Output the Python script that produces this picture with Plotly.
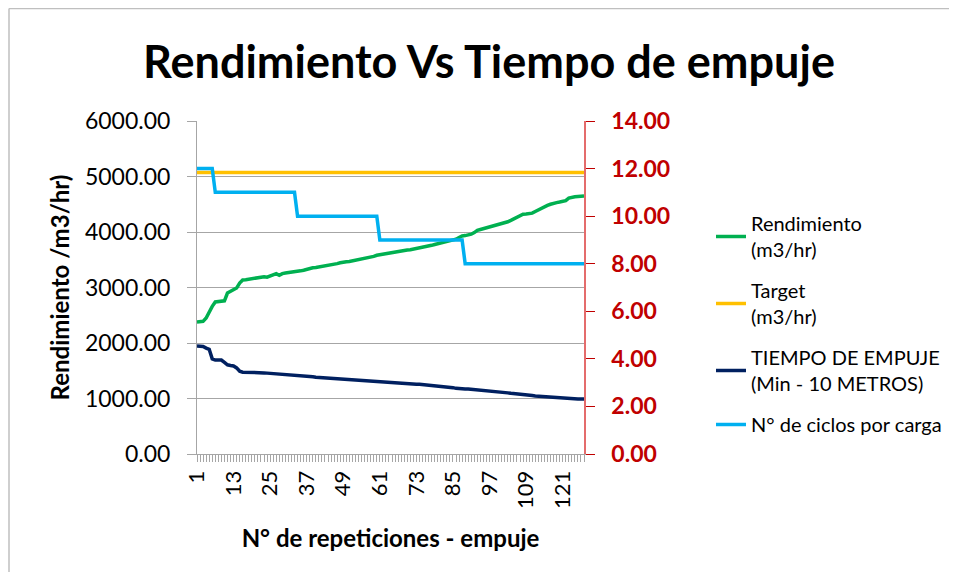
import plotly.graph_objects as go

# Nº de repeticiones (categorías)
repeticiones = list(range(1, 129))

rendimiento = [
    2380, 2380, 2390, 2450, 2560, 2660, 2740, 2750, 2750, 2760,
    2900, 2930, 2960, 2990, 3080, 3135, 3140, 3150, 3160, 3170,
    3175, 3185, 3195, 3185, 3210, 3235, 3250, 3220, 3250, 3260,
    3265, 3270, 3290, 3295, 3300, 3310, 3330, 3345, 3355, 3360,
    3370, 3375, 3380, 3385, 3410, 3420, 3430, 3445, 3460, 3465,
    3470, 3480, 3495, 3510, 3525, 3530, 3540, 3550, 3560, 3580,
    3590, 3600, 3610, 3620, 3640, 3645, 3650, 3660, 3665, 3675,
    3680, 3690, 3700, 3705, 3715, 3730, 3745, 3760, 3775, 3790,
    3800, 3815, 3825, 3840, 3850, 3870, 3900, 3930, 3935, 3945,
    3960, 3990, 4030, 4045, 4060, 4080, 4095, 4100, 4110, 4130,
    4150, 4165, 4185, 4210, 4240, 4270, 4300, 4320, 4325, 4330,
    4340, 4370, 4400, 4420, 4450, 4480, 4500, 4520, 4530, 4540,
    4560, 4565, 4610, 4630, 4635, 4640, 4645, 4648,
]

target = [
    5070, 5070, 5070, 5070, 5070, 5070, 5070, 5070, 5070, 5070,
    5070, 5070, 5070, 5070, 5070, 5070, 5070, 5070, 5070, 5070,
    5070, 5070, 5070, 5070, 5070, 5070, 5070, 5070, 5070, 5070,
    5070, 5070, 5070, 5070, 5070, 5070, 5070, 5070, 5070, 5070,
    5070, 5070, 5070, 5070, 5070, 5070, 5070, 5070, 5070, 5070,
    5070, 5070, 5070, 5070, 5070, 5070, 5070, 5070, 5070, 5070,
    5070, 5070, 5070, 5070, 5070, 5070, 5070, 5070, 5070, 5070,
    5070, 5070, 5070, 5070, 5070, 5070, 5070, 5070, 5070, 5070,
    5070, 5070, 5070, 5070, 5070, 5070, 5070, 5070, 5070, 5070,
    5070, 5070, 5070, 5070, 5070, 5070, 5070, 5070, 5070, 5070,
    5070, 5070, 5070, 5070, 5070, 5070, 5070, 5070, 5070, 5070,
    5070, 5070, 5070, 5070, 5070, 5070, 5070, 5070, 5070, 5070,
    5070, 5070, 5070, 5070, 5070, 5070, 5070, 5070,
]

tiempo_empuje = [
    4.54, 4.54, 4.52, 4.45, 4.40, 4.00, 3.95, 3.95, 3.95, 3.85,
    3.75, 3.72, 3.70, 3.62, 3.48, 3.44, 3.44, 3.43, 3.43, 3.42,
    3.42, 3.41, 3.41, 3.40, 3.39, 3.38, 3.40, 3.36, 3.36, 3.35,
    3.34, 3.33, 3.32, 3.31, 3.30, 3.29, 3.28, 3.26, 3.25, 3.23,
    3.22, 3.21, 3.21, 3.20, 3.20, 3.18, 3.17, 3.16, 3.15, 3.14,
    3.13, 3.13, 3.12, 3.11, 3.10, 3.08, 3.07, 3.06, 3.05, 3.04,
    3.03, 3.02, 3.01, 3.00, 3.00, 2.99, 2.99, 2.98, 2.97, 2.96,
    2.95, 2.94, 2.93, 2.93, 2.92, 2.90, 2.89, 2.88, 2.86, 2.85,
    2.84, 2.83, 2.82, 2.81, 2.79, 2.76, 2.74, 2.73, 2.73, 2.73,
    2.72, 2.70, 2.68, 2.67, 2.67, 2.66, 2.65, 2.64, 2.63, 2.62,
    2.61, 2.59, 2.57, 2.55, 2.54, 2.53, 2.53, 2.52, 2.50, 2.48,
    2.46, 2.44, 2.43, 2.42, 2.40, 2.38, 2.37, 2.36, 2.35, 2.35,
    2.34, 2.34, 2.33, 2.32, 2.31, 2.31, 2.31, 2.31,
]

ciclos_carga = [
    12, 12, 12, 12, 12, 12, 11, 11, 11, 11,
    11, 11, 11, 11, 11, 11, 11, 11, 11, 11,
    11, 11, 11, 11, 11, 11, 11, 11, 11, 11,
    11, 11, 11, 10, 10, 10, 10, 10, 10, 10,
    10, 10, 10, 10, 10, 10, 10, 10, 10, 10,
    10, 10, 10, 10, 10, 10, 10, 10, 10, 10,
    9, 9, 9, 9, 9, 9, 9, 9, 9, 9,
    9, 9, 9, 9, 9, 9, 9, 9, 9, 9,
    9, 9, 9, 9, 9, 9, 9, 9, 8, 8,
    8, 8, 8, 8, 8, 8, 8, 8, 8, 8,
    8, 8, 8, 8, 8, 8, 8, 8, 8, 8,
    8, 8, 8, 8, 8, 8, 8, 8, 8, 8,
    8, 8, 8, 8, 8, 8, 8, 8,
]

x_ticks = [1, 13, 25, 37, 49, 61, 73, 85, 97, 109, 121]

FONT = "Lato, 'Open Sans', sans-serif"
GRIS = "#A6A6A6"

# la página tiene 8px de margen: la figura ocupa 941x564
W, H = 941, 564
L, R, T, B = 189, 576, 113, 446

fig = go.Figure()

series = [
    (rendimiento, "Rendimiento<br>(m3/hr)", "#00B050", "y"),
    (target, "Target<br>(m3/hr)", "#FFC000", "y"),
    (tiempo_empuje, "TIEMPO DE EMPUJE<br>(Min - 10 METROS)", "#002060", "y2"),
    (ciclos_carga, "N° de ciclos por carga", "#00B0F0", "y2"),
]
for i, (vals, nombre, color, eje) in enumerate(series):
    fig.add_trace(
        go.Scatter(
            x=repeticiones,
            y=vals,
            name=nombre,
            mode="lines",
            line=dict(color=color, width=3.5),
            yaxis=eje,
            legendgroup=f"g{i}",
        )
    )

fig.update_layout(
    width=W,
    height=H,
    paper_bgcolor="white",
    plot_bgcolor="white",
    margin=dict(l=L, r=W - R, t=T, b=H - B, autoexpand=False),
    font=dict(family=FONT, color="black"),
    title=dict(
        text="<b>Rendimiento Vs Tiempo de empuje</b>",
        x=481 / W,
        xanchor="center",
        y=1 - 54 / H,
        yanchor="middle",
        font=dict(size=45, color="black", family=FONT),
    ),
    xaxis=dict(
        range=[1, 128],
        tickvals=x_ticks,
        ticktext=[str(v) for v in x_ticks],
        tickangle=-90,
        tickfont=dict(size=22),
        ticks="outside",
        ticklen=7,
        tickcolor=GRIS,
        minor=dict(dtick=1, tick0=1, ticks="outside", ticklen=7, tickcolor=GRIS),
        showline=True,
        linecolor=GRIS,
        linewidth=1,
        showgrid=False,
        zeroline=False,
        title=dict(
            text="<b>N° de repeticiones - empuje</b>",
            font=dict(size=24),
            standoff=22,
        ),
    ),
    yaxis=dict(
        range=[0, 6000],
        dtick=1000,
        tickformat=".2f",
        tickfont=dict(size=23),
        ticks="outside",
        ticklen=9,
        tickcolor=GRIS,
        ticklabelstandoff=12,
        showline=True,
        linecolor=GRIS,
        showgrid=True,
        gridcolor=GRIS,
        gridwidth=1,
        zeroline=False,
        title=dict(
            text="<b>Rendimiento /m3/hr)</b>",
            font=dict(size=24),
            standoff=8,
        ),
    ),
    yaxis2=dict(
        range=[0, 14],
        dtick=2,
        tickformat=".2f",
        tickprefix="<b>",
        ticksuffix="</b>",
        overlaying="y",
        side="right",
        tickfont=dict(size=23, color="#C00000"),
        ticks="outside",
        ticklen=9,
        tickcolor="#C00000",
        ticklabelstandoff=12,
        showline=True,
        linecolor="#E46C6C",
        linewidth=1.5,
        showgrid=False,
        zeroline=False,
    ),
    legend=dict(
        x=(703 - L) / (R - L),
        xanchor="left",
        y=(B - 316) / (B - T),
        yanchor="middle",
        font=dict(size=20, color="black"),
        tracegroupgap=12,
        bgcolor="rgba(0,0,0,0)",
    ),
    shapes=[
        # borde del área del gráfico (solo visible arriba e izquierda)
        dict(
            type="line", xref="paper", yref="paper",
            x0=(1 - L) / (R - L), x1=(1 - L) / (R - L),
            y0=(B - H) / (B - T), y1=(B - 0.5) / (B - T),
            line=dict(color="#BFBFBF", width=1.5),
        ),
        dict(
            type="line", xref="paper", yref="paper",
            x0=(1 - L) / (R - L), x1=(W - L) / (R - L),
            y0=(B - 0.5) / (B - T), y1=(B - 0.5) / (B - T),
            line=dict(color="#BFBFBF", width=1.5),
        ),
    ],
)

fig.write_html("out.html")
